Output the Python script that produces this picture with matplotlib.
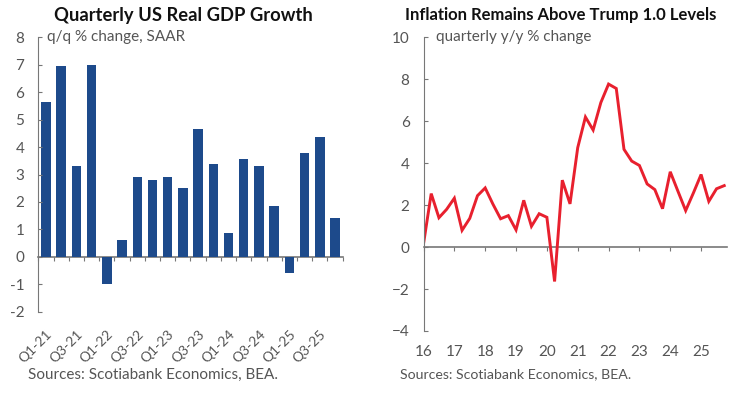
import matplotlib
matplotlib.use('Agg')
import matplotlib.pyplot as plt
import numpy as np

plt.rcParams['font.family'] = ['Lato', 'DejaVu Sans']

# left chart: quarterly real GDP, q/q % change SAAR
gdp_quarters = ['Q1-21', 'Q2-21', 'Q3-21', 'Q4-21', 'Q1-22', 'Q2-22', 'Q3-22', 'Q4-22',
                'Q1-23', 'Q2-23', 'Q3-23', 'Q4-23', 'Q1-24', 'Q2-24', 'Q3-24', 'Q4-24',
                'Q1-25', 'Q2-25', 'Q3-25', 'Q4-25']
gdp_growth = [5.65, 6.95, 3.3, 7.0, -1.0, 0.6, 2.9, 2.8, 2.9, 2.5, 4.65, 3.4,
              0.85, 3.55, 3.3, 1.85, -0.6, 3.8, 4.35, 1.4]

# right chart: quarterly y/y % change, 2016 Q1 .. 2025 Q4
infl_start_year = 2016
inflation = [0.15, 2.55, 1.4, 1.8, 2.33, 0.8, 1.37, 2.45, 2.82, 2.05, 1.35, 1.5,
             0.82, 2.23, 0.99, 1.59, 1.42, -1.64, 3.19, 2.06, 4.74, 6.2, 5.58, 6.89,
             7.77, 7.56, 4.66, 4.1, 3.89, 3.01, 2.74, 1.83, 3.59, 2.66, 1.74, 2.58,
             3.46, 2.18, 2.78, 2.93]
year_labels = ['16', '17', '18', '19', '20', '21', '22', '23', '24', '25']

bar_color = '#1d4a8b'
line_color = '#e8202e'
text_grey = '#555555'
spine_grey = '#777777'

fig = plt.figure(figsize=(7.31, 3.93), dpi=100)

# ---------- left: GDP bars ----------
ax1 = fig.add_axes([38.3 / 731, 1 - 311.7 / 393, (342.7 - 38.3) / 731, (311.7 - 37.3) / 393])
x = np.arange(len(gdp_quarters))
ax1.bar(x, gdp_growth, width=0.62, color=bar_color)
ax1.set_xlim(-0.5, len(gdp_quarters) - 0.5)
ax1.set_ylim(-2, 8)
ax1.set_yticks(range(-2, 9))
ax1.set_yticklabels([str(v) for v in range(-2, 9)])
ax1.set_xticks(x[::2])
ax1.set_xticklabels(gdp_quarters[::2], rotation=45, ha='right', rotation_mode='anchor')
for s in ['top', 'right', 'bottom']:
    ax1.spines[s].set_visible(False)
ax1.spines['left'].set_color(spine_grey)
ax1.tick_params(axis='y', direction='in', length=3, color=spine_grey, labelcolor=text_grey,
                labelsize=11, pad=10)
ax1.tick_params(axis='x', length=0, labelcolor=text_grey, labelsize=10, pad=12)
zero1 = ax1.secondary_xaxis(0.2)
zero1.set_xticks(np.arange(-0.5, len(gdp_quarters), 1.0))
zero1.tick_params(length=3, color=spine_grey, labelbottom=False)
zero1.spines['bottom'].set_color(spine_grey)
zero1.spines['bottom'].set_linewidth(1.2)
ax1.text(0.03, 8, 'q/q % change, SAAR', color=text_grey, fontsize=11, va='center',
         transform=ax1.get_yaxis_transform())

fig.text(183 / 731, 1 - 15 / 393, 'Quarterly US Real GDP Growth', ha='center', va='center',
         fontsize=13.2, fontweight='bold', color='#111111')
fig.text(28 / 731, 1 - 374.5 / 393, 'Sources: Scotiabank Economics, BEA.', ha='left',
         va='center', fontsize=11, color=text_grey)

# ---------- right: inflation line ----------
ax2 = fig.add_axes([423.5 / 731, 1 - 331 / 393, (726.7 - 423.5) / 731, (331 - 37.3) / 393])
t = infl_start_year + np.arange(len(inflation)) / 4
ax2.plot(t, inflation, color=line_color, lw=2.1, solid_joinstyle='miter')
ax2.set_xlim(2016, 2025.83)
ax2.set_ylim(-4, 10)
ax2.set_yticks(range(-4, 11, 2))
ax2.set_xticks(np.arange(2016, 2026))
ax2.set_xticklabels(year_labels)
for s in ['top', 'right', 'bottom']:
    ax2.spines[s].set_visible(False)
ax2.spines['left'].set_color(spine_grey)
ax2.tick_params(axis='y', direction='in', length=3, color=spine_grey, labelcolor=text_grey,
                labelsize=11, pad=10)
ax2.tick_params(axis='x', length=0, labelcolor=text_grey, labelsize=11, pad=10)
zero2 = ax2.secondary_xaxis(4 / 14)
zero2.set_xticks(np.arange(2016, 2026))
zero2.tick_params(length=3, color=spine_grey, labelbottom=False)
zero2.spines['bottom'].set_color(spine_grey)
zero2.spines['bottom'].set_linewidth(1.2)
ax2.text(0.04, 10, 'quarterly y/y % change', color=text_grey, fontsize=11, va='center',
         transform=ax2.get_yaxis_transform())

fig.text(561 / 731, 1 - 15 / 393, 'Inflation Remains Above Trump 1.0 Levels', ha='center',
         va='center', fontsize=12, fontweight='bold', color='#111111')
fig.text(400 / 731, 1 - 374.5 / 393, 'Sources: Scotiabank Economics, BEA.', ha='left',
         va='center', fontsize=10.2, color=text_grey)

fig.savefig('out.png', dpi=100)
